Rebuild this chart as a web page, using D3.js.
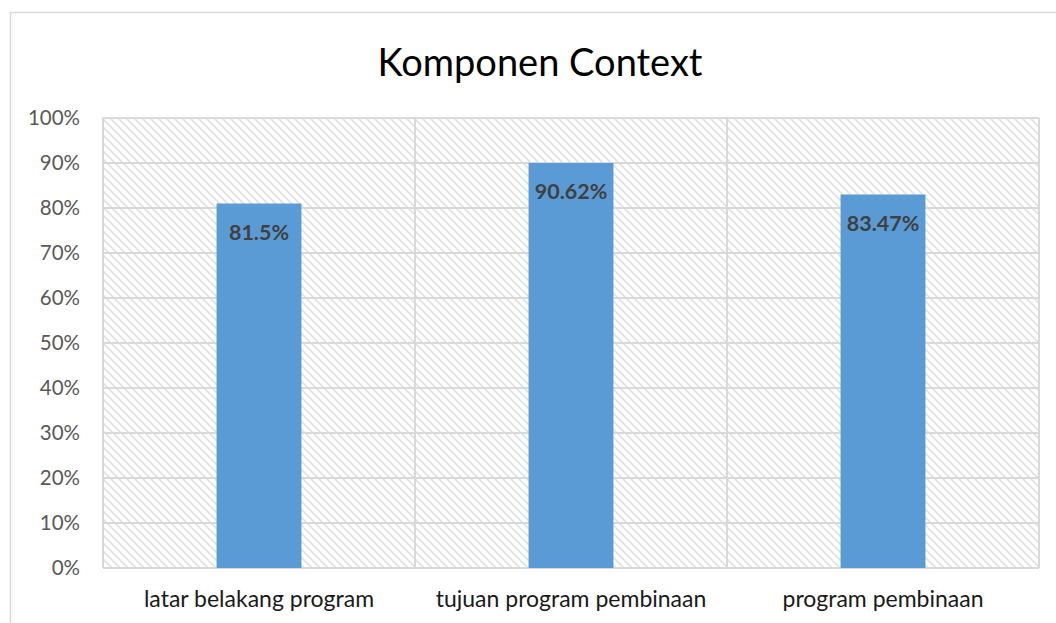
<!DOCTYPE html>
<html>
<head>
<meta charset="utf-8">
<script src="https://cdn.jsdelivr.net/npm/d3@7"></script>
<style>
  html, body { margin: 0; padding: 0; background: #fff; }
  svg { display: block; }
</style>
</head>
<body>
<svg id="chart" width="1056" height="623"></svg>
<script>
// ---- data ----
const categories = ["latar belakang program", "tujuan program pembinaan", "program pembinaan"];
const barValues = [0.81, 0.90, 0.83];
const barLabels = ["81.5%", "90.62%", "83.47%"];
const yTicks = [0, 0.1, 0.2, 0.3, 0.4, 0.5, 0.6, 0.7, 0.8, 0.9, 1.0];
const titleText = "Komponen Context";

// ---- layout ----
const W = 1056, H = 623;
const plot = { left: 103, right: 1039, top: 118, bottom: 568 };
const FONT = "Lato, 'Open Sans', sans-serif";
const svg = d3.select("#chart");

// pattern
const defs = svg.append("defs");
const pat = defs.append("pattern")
  .attr("id", "hatch").attr("patternUnits", "userSpaceOnUse")
  .attr("width", 8).attr("height", 8);
pat.append("rect").attr("width", 8).attr("height", 8).attr("fill", "#fff");
pat.append("path")
  .attr("d", "M-2,-2 L10,10 M-2,6 L2,10 M6,-2 L10,2")
  .attr("stroke", "#e2e2e2").attr("stroke-width", 1.8).attr("fill", "none");

// outer chart border
svg.append("rect")
  .attr("x", 10.5).attr("y", 12.5).attr("width", W + 20).attr("height", H + 20)
  .attr("fill", "#fff").attr("stroke", "#d9d9d9").attr("stroke-width", 1.5);

// scales
const x = d3.scaleBand().domain(categories)
  .range([plot.left, plot.right]).paddingInner(0.728).paddingOuter(0.364);
const slots = d3.scaleBand().domain(categories).range([plot.left, plot.right]).padding(0);
const y = d3.scaleLinear().domain([0, 1]).range([plot.bottom, plot.top]);

// plot background hatch
svg.append("rect")
  .attr("x", plot.left).attr("y", plot.top)
  .attr("width", plot.right - plot.left).attr("height", plot.bottom - plot.top)
  .attr("fill", "url(#hatch)");

// horizontal gridlines
svg.append("g").selectAll("line").data(yTicks).join("line")
  .attr("x1", plot.left).attr("x2", plot.right)
  .attr("y1", d => y(d)).attr("y2", d => y(d))
  .attr("stroke", "#d9d9d9").attr("stroke-width", 2);

// vertical category separators (incl. plot edges)
const seps = categories.map(c => slots(c)).concat([plot.right]);
svg.append("g").selectAll("line").data(seps).join("line")
  .attr("x1", d => d).attr("x2", d => d)
  .attr("y1", plot.top).attr("y2", plot.bottom)
  .attr("stroke", "#d9d9d9").attr("stroke-width", 2);

// bars
svg.append("g").selectAll("rect").data(categories).join("rect")
  .attr("x", d => x(d))
  .attr("y", (d, i) => y(barValues[i]))
  .attr("width", x.bandwidth())
  .attr("height", (d, i) => y(0) - y(barValues[i]))
  .attr("fill", "#5b9bd5");

// bar labels
svg.append("g").selectAll("text").data(categories).join("text")
  .attr("x", d => x(d) + x.bandwidth() / 2)
  .attr("y", (d, i) => y(barValues[i]) + 36)
  .attr("text-anchor", "middle")
  .attr("font-family", FONT).attr("font-weight", "bold")
  .attr("font-size", 21.5).attr("fill", "#404040")
  .text((d, i) => barLabels[i]);

// y axis labels
const yAxis = d3.axisLeft(y).tickValues(yTicks).tickFormat(d3.format(".0%"))
  .tickSize(0).tickPadding(23);
const yg = svg.append("g").attr("transform", `translate(${plot.left},0)`).call(yAxis);
yg.select(".domain").remove();
yg.selectAll("text").attr("font-family", FONT).attr("font-size", 20.5).attr("fill", "#595959");

// x axis labels
const xAxis = d3.axisBottom(slots).tickSize(0).tickPadding(0);
const xg = svg.append("g").attr("transform", `translate(0,${plot.bottom})`).call(xAxis);
xg.select(".domain").remove();
xg.selectAll("text")
  .attr("dy", null).attr("y", 39)
  .attr("font-family", FONT).attr("font-size", 23).attr("fill", "#1a1a1a");

// title
svg.append("text")
  .attr("x", 540).attr("y", 76)
  .attr("text-anchor", "middle")
  .attr("font-family", FONT).attr("font-size", 38).attr("fill", "#000")
  .text(titleText);
</script>
</body>
</html>
